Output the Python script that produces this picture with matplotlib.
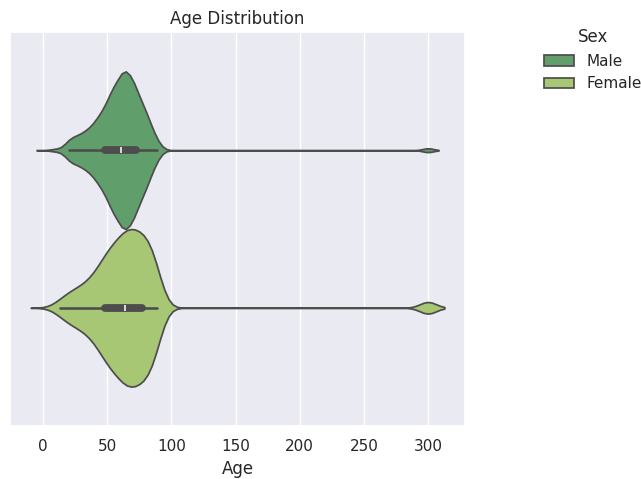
import numpy as np
import pandas as pd
import matplotlib
matplotlib.use("Agg")
import matplotlib.pyplot as plt
import seaborn as sns

# age values and how many patients of each sex have that age
ages = [3, 10, 13, 20, 25, 30, 35, 40, 44, 48, 52, 56, 61, 64, 68, 72, 77, 81, 85, 89, 300]
male_counts = [2, 35, 0, 196, 196, 242, 311, 357, 403, 495, 621, 911, 920, 805, 874, 849, 642, 405, 248, 115, 58]
female_counts = [8, 0, 170, 240, 225, 275, 340, 370, 420, 520, 600, 740, 730, 665, 785, 890, 855, 700, 610, 575, 225]
sexes = ["Male", "Female"]

df = pd.DataFrame({
    "Age": np.concatenate([np.repeat(ages, male_counts), np.repeat(ages, female_counts)]),
    "Sex": [sexes[0]] * sum(male_counts) + [sexes[1]] * sum(female_counts),
})

sns.set_theme(style="darkgrid")
fig = plt.figure(figsize=(6.41, 4.79), dpi=100)
ax = fig.add_axes([10 / 641, 1 - 426 / 479, 455 / 641, 394 / 479])

sns.violinplot(data=df, x="Age", hue="Sex", hue_order=sexes,
               palette="summer", density_norm="width", ax=ax)
ax.set_title("Age Distribution")
sns.move_legend(ax, "upper left", bbox_to_anchor=(1.143, 1.045), frameon=False)

fig.savefig("out.png")
